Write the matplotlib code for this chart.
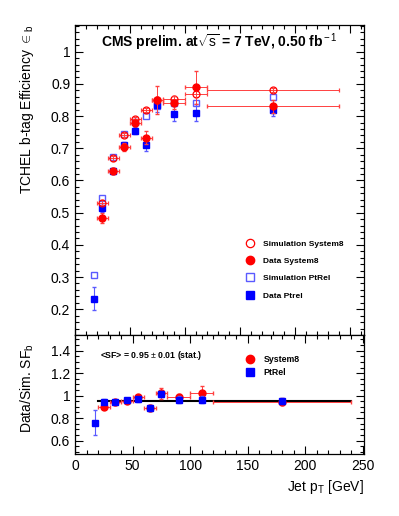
import matplotlib
matplotlib.use("Agg")
import matplotlib.pyplot as plt
from matplotlib.lines import Line2D
from matplotlib.ticker import MultipleLocator

plt.rcParams['font.family'] = ['Liberation Sans', 'DejaVu Sans']
plt.rcParams['mathtext.fontset'] = 'custom'
plt.rcParams['mathtext.rm'] = 'Liberation Sans'
plt.rcParams['mathtext.it'] = 'Liberation Sans:italic'
plt.rcParams['mathtext.bf'] = 'Liberation Sans:bold'

# jet pT bins (System8 and PtRel share bins, PtRel has one extra low bin)
pt_s8 = [25, 35, 45, 55, 65, 75, 90, 110, 180]
pt_s8_lo = [5, 5, 5, 5, 5, 5, 10, 10, 60]
pt_s8_hi = [5, 5, 5, 5, 5, 5, 10, 10, 60]
pt_ptrel = [17, 25, 35, 45, 55, 65, 75, 90, 110, 180]

# efficiencies
eff_sim_s8 = [0.531, 0.669, 0.741, 0.791, 0.819, 0.850, 0.853, 0.869, 0.882]
eff_sim_s8_err = [0.008, 0.007, 0.007, 0.007, 0.007, 0.008, 0.008, 0.010, 0.006]
eff_data_s8 = [0.483, 0.630, 0.705, 0.780, 0.733, 0.850, 0.842, 0.889, 0.831]
eff_data_s8_err = [0.015, 0.010, 0.012, 0.012, 0.020, 0.042, 0.020, 0.052, 0.020]
eff_sim_ptrel = [0.306, 0.545, 0.672, 0.744, 0.783, 0.800, 0.831, 0.840, 0.842, 0.858]
eff_sim_ptrel_err = [0.004, 0.004, 0.004, 0.004, 0.004, 0.004, 0.004, 0.004, 0.004, 0.004]
eff_data_ptrel = [0.233, 0.513, 0.630, 0.710, 0.755, 0.710, 0.834, 0.808, 0.811, 0.819]
eff_data_ptrel_err = [0.035, 0.012, 0.010, 0.010, 0.012, 0.018, 0.020, 0.022, 0.027, 0.020]

# scale factors
sf_s8 = [0.902, 0.940, 0.950, 0.985, 0.890, 1.020, 0.985, 1.024, 0.947]
sf_s8_err = [0.02, 0.02, 0.02, 0.02, 0.03, 0.05, 0.03, 0.06, 0.03]
sf_ptrel = [0.760, 0.947, 0.944, 0.960, 0.967, 0.890, 1.015, 0.964, 0.964, 0.953]
sf_ptrel_err = [0.11, 0.02, 0.015, 0.015, 0.02, 0.025, 0.03, 0.03, 0.03, 0.025]
sf_mean = 0.95
sf_range = [20, 240]

red = '#ff0000'
lred = '#ff4040'
blue = '#0000ff'
lblue = '#5a5aff'
ms = 5

fig = plt.figure(figsize=(3.99, 5.16), dpi=100)
ax1 = fig.add_axes([0.188, 0.3508, 0.724, 0.6008])
ax2 = fig.add_axes([0.188, 0.1202, 0.724, 0.2306])

def style_axis(ax):
    ax.tick_params(which='both', direction='in', top=True, right=True, width=0.8)
    ax.tick_params(which='major', length=6)
    ax.tick_params(which='minor', length=3)
    for s in ax.spines.values():
        s.set_linewidth(0.9)

# --- top panel: efficiencies
ax1.errorbar(pt_ptrel, eff_sim_ptrel, yerr=eff_sim_ptrel_err, fmt='s', ms=ms,
             mfc='white', mec=lblue, mew=1.0, ecolor=lblue, elinewidth=0.8,
             capsize=1.5, zorder=3)
ax1.errorbar(pt_ptrel, eff_data_ptrel, yerr=eff_data_ptrel_err, fmt='s', ms=ms,
             mfc=blue, mec=blue, ecolor=lblue, elinewidth=0.8, capsize=1.5,
             zorder=4)
ax1.errorbar(pt_s8, eff_sim_s8, yerr=eff_sim_s8_err, xerr=[pt_s8_lo, pt_s8_hi],
             fmt='o', ms=ms, mfc='none', mec=red, mew=0.9, ecolor=lred,
             elinewidth=0.7, capsize=1.5, zorder=5)
ax1.errorbar(pt_s8, eff_data_s8, yerr=eff_data_s8_err, xerr=[pt_s8_lo, pt_s8_hi],
             fmt='o', ms=ms, mfc=red, mec=red, ecolor=lred, elinewidth=0.7,
             capsize=1.5, zorder=6)

ax1.set_xlim(0, 263)
ax1.set_ylim(0.12, 1.083)
ax1.xaxis.set_major_locator(MultipleLocator(50))
ax1.xaxis.set_minor_locator(MultipleLocator(10))
ax1.yaxis.set_minor_locator(MultipleLocator(0.02))
ax1.set_yticks([0.2, 0.3, 0.4, 0.5, 0.6, 0.7, 0.8, 0.9, 1.0])
ax1.set_yticklabels(['0.2', '0.3', '0.4', '0.5', '0.6', '0.7', '0.8', '0.9', '1'])
ax1.tick_params(labelbottom=False, labelsize=10)
style_axis(ax1)
ax1.set_ylabel(r'TCHEL b-tag Efficiency ${\in}_{\rm b}$', fontsize=10, loc='top')
ax1.yaxis.set_label_coords(-0.135, 1.0)
ax1.text(0.5, 0.945, r'CMS prelim. at$\sqrt{\rm s}$ = 7 TeV, 0.50 fb$^{\rm -1}$',
         transform=ax1.transAxes, ha='center', va='center', fontsize=10,
         fontweight='bold')

handles1 = [
    Line2D([], [], ls='none', marker='o', ms=ms + 1, mfc='none', mec=red, mew=0.9),
    Line2D([], [], ls='none', marker='o', ms=ms + 1, mfc=red, mec=red),
    Line2D([], [], ls='none', marker='s', ms=ms + 1, mfc='white', mec=lblue, mew=1.0),
    Line2D([], [], ls='none', marker='s', ms=ms + 1, mfc=blue, mec=blue),
]
labels1 = ['Simulation System8', 'Data System8', 'Simulation PtRel', 'Data Ptrel']
ax1.legend(handles1, labels1, loc='upper left', bbox_to_anchor=(0.58, 0.318),
           frameon=False, prop={'size': 6.0, 'weight': 'bold'}, labelspacing=1.15,
           handletextpad=1.0, handlelength=1.0, borderaxespad=0)

# --- bottom panel: scale factors
ax2.plot(sf_range, [sf_mean, sf_mean], color='black', lw=1.5, zorder=2)
ax2.errorbar(pt_s8, sf_s8, yerr=sf_s8_err, xerr=[pt_s8_lo, pt_s8_hi], fmt='o',
             ms=ms, mfc=red, mec=red, ecolor=lred, elinewidth=0.7, capsize=1.5,
             zorder=3)
ax2.errorbar(pt_ptrel, sf_ptrel, yerr=sf_ptrel_err, fmt='s', ms=ms, mfc=blue,
             mec=blue, ecolor=lblue, elinewidth=0.8, capsize=1.5, zorder=4)
ax2.set_xlim(0, 251)
ax2.set_ylim(0.48, 1.54)
ax2.xaxis.set_major_locator(MultipleLocator(50))
ax2.xaxis.set_minor_locator(MultipleLocator(10))
ax2.set_yticks([0.6, 0.8, 1.0, 1.2, 1.4])
ax2.set_yticklabels(['0.6', '0.8', '1', '1.2', '1.4'])
ax2.yaxis.set_minor_locator(MultipleLocator(0.05))
ax2.tick_params(labelsize=10)
style_axis(ax2)
ax2.set_ylabel(r'Data/Sim. SF$_{\rm b}$', fontsize=10)
ax2.yaxis.set_label_coords(-0.135, 0.55)
ax2.set_xlabel(r'Jet p$_{\rm T}$ [GeV]', fontsize=10, loc='right')
ax2.text(0.085, 0.83, r'<SF> = 0.95 $\pm$ 0.01 (stat.)', transform=ax2.transAxes,
         fontsize=6.3, fontweight='bold', ha='left', va='center')

handles2 = [
    Line2D([], [], ls='none', marker='o', ms=ms + 1, mfc=red, mec=red),
    Line2D([], [], ls='none', marker='s', ms=ms + 1, mfc=blue, mec=blue),
]
ax2.legend(handles2, ['System8', 'PtRel'], loc='upper left',
           bbox_to_anchor=(0.58, 0.86), frameon=False,
           prop={'size': 6.3, 'weight': 'bold'}, labelspacing=0.45,
           handletextpad=1.0, handlelength=1.0, borderaxespad=0)

fig.savefig('out.png', dpi=100)
